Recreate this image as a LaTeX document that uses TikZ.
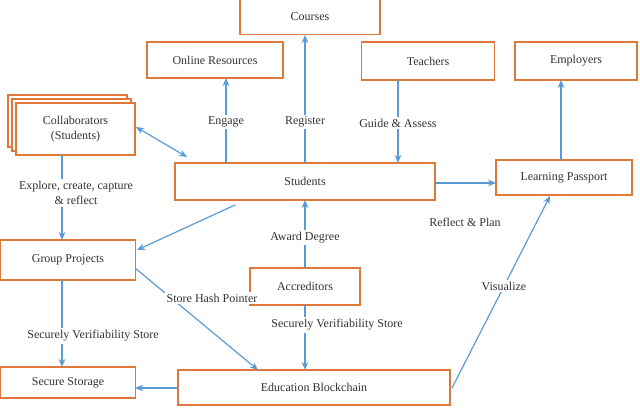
\documentclass[tikz,border=0pt]{standalone}
\usepackage{fontspec}
\setmainfont{Liberation Serif}
\usetikzlibrary{arrows.meta}
\definecolor{bord}{HTML}{E0783A}
\definecolor{arr}{HTML}{5B9BD5}
\definecolor{txt}{HTML}{333333}
\begin{document}
\begin{tikzpicture}[x=0.75pt,y=-0.75pt,
 box/.style={draw=bord,line width=1.3pt,fill=white,text=txt,font=\fontsize{9}{11}\selectfont,align=center,inner sep=0pt},
 ar/.style={draw=arr,line width=0.9pt,-{Stealth[length=6pt,width=5pt]}},
 lab/.style={fill=white,text=txt,font=\fontsize{9}{11}\selectfont,align=center,inner sep=1.5pt}]
\useasboundingbox (0,0) rectangle (640,408);
\node[box,minimum width=140*0.75pt,minimum height=35*0.75pt] (courses) at (310,17) {Courses};
\node[box,minimum width=136*0.75pt,minimum height=36*0.75pt] (online) at (215,60) {Online Resources};
\node[box,minimum width=133*0.75pt,minimum height=38*0.75pt] (teach) at (428,61) {Teachers};
\node[box,minimum width=122*0.75pt,minimum height=38*0.75pt] (emp) at (576,61) {Employers};
\draw[bord,line width=1.3pt,fill=white] (8,95) rectangle (127,147);
\draw[bord,line width=1.3pt,fill=white] (12,99) rectangle (131,151);
\node[box,minimum width=119*0.75pt,minimum height=52*0.75pt] (coll) at (75.5,129) {Collaborators\\(Students)};
\node[box,minimum width=260*0.75pt,minimum height=37*0.75pt] (stud) at (305,181.5) {Students};
\node[box,minimum width=136*0.75pt,minimum height=35*0.75pt] (lp) at (564,177.5) {Learning Passport};
\node[box,minimum width=135*0.75pt,minimum height=40*0.75pt] (gp) at (68,260) {Group Projects};
\node[box,minimum width=110*0.75pt,minimum height=37*0.75pt] (acc) at (305,286.5) {Accreditors};
\node[box,minimum width=135*0.75pt,minimum height=31*0.75pt] (ss) at (68,382.5) {Secure Storage};
\node[box,minimum width=272*0.75pt,minimum height=35*0.75pt] (eb) at (314,387.5) {Education Blockchain};

\draw[ar] (226,163) -- (226,78) node[lab,pos=0.48] {Engage};
\draw[ar] (305,163) -- (305,35) node[lab,pos=0.32] {Register};
\draw[ar] (398,80) -- (398,163) node[lab,pos=0.52] {Guide \& Assess};
\draw[ar,{Stealth[length=6pt,width=5pt]}-{Stealth[length=6pt,width=5pt]}] (136,127) -- (187,157);
\draw[ar] (62,155) -- (62,240);
\node[lab] (l1) at (76,193) {Explore, create, capture\\\& reflect};
\draw[ar] (235,205) -- (137,250);
\draw[ar] (435,183) -- (496,183);
\draw[ar] (561,160) -- (561,80);
\draw[ar] (305,268) -- (305,200) node[lab,pos=0.45] {Award Degree};
\draw[ar] (305,305) -- (305,370);
\node[lab] (l2) at (337,325) {Securely Verifiability Store};
\draw[ar] (135,268) -- (258,370);
\node[lab] (l3) at (212,298) {Store Hash Pointer};
\draw[ar] (62,280) -- (62,367);
\node[lab] (l4) at (93,336) {Securely Verifiability Store};
\draw[ar] (452,388) -- (550,196) node[lab,pos=0.53] {Visualize};
\draw[ar] (178,388) -- (135,388);
\node[lab] (rp) at (465,222) {Reflect \& Plan};
\end{tikzpicture}
\end{document}
